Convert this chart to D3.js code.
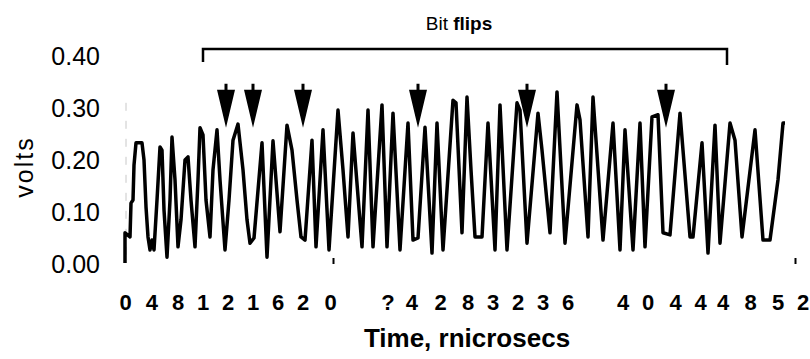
<!DOCTYPE html>
<html>
<head>
<meta charset="utf-8">
<script src="https://cdn.jsdelivr.net/npm/d3@7"></script>
<style>
  body { margin: 0; background: #fff; }
  svg { display: block; font-family: "Liberation Sans", Arial, sans-serif; }
</style>
</head>
<body>
<div class="chart"></div>
<script>
// scope trace: time in microseconds, signal in volts
const timeUs = [
  0, 0, 0.4, 0.48, 0.64, 0.72, 0.88, 1.36, 1.52, 1.68, 1.84, 2.0, 2.16, 2.32, 2.56, 2.8, 2.96, 3.12, 3.36, 3.6,
  3.76, 4.0, 4.24, 4.48, 4.8, 5.04, 5.28, 5.6, 5.84, 6.0, 6.24, 6.48, 6.8, 7.04, 7.36, 7.6, 8.0, 8.32, 8.64, 9.04,
  9.44, 9.76, 10.0, 10.32, 10.96, 11.36, 11.84, 12.4, 12.96, 13.36, 13.76, 14.08, 14.4, 14.96, 15.28, 15.84, 16.32, 17.04, 17.44, 17.84,
  18.24, 18.96, 19.44, 19.84, 20.56, 20.96, 21.44, 22.0, 22.64, 23.04, 23.44, 24.0, 24.56, 24.96, 25.44, 26.24, 26.48, 26.96, 27.36, 27.68,
  28.0, 28.56, 29.04, 29.6, 30.0, 30.56, 31.36, 31.6, 32.16, 33.04, 33.36, 34.0, 34.56, 35.2, 36.16, 36.4, 37.04, 37.44, 38.24, 39.04,
  39.6, 40.0, 40.64, 41.2, 41.6, 42.16, 42.64, 43.04, 43.6, 44.4, 45.2, 45.44, 46.16, 46.64, 47.2, 47.6, 48.4, 48.8, 49.36, 50.4,
  51.04, 51.6, 52.24, 52.64, 52.8
];
const volts = [
  0.002, 0.060, 0.052, 0.117, 0.123, 0.190, 0.233, 0.233, 0.200, 0.110, 0.052, 0.027, 0.046, 0.027, 0.123, 0.225, 0.219, 0.104, 0.013, 0.123,
  0.244, 0.162, 0.033, 0.085, 0.200, 0.206, 0.123, 0.033, 0.162, 0.262, 0.248, 0.123, 0.052, 0.181, 0.258, 0.162, 0.027, 0.123, 0.238, 0.269,
  0.181, 0.085, 0.040, 0.050, 0.233, 0.013, 0.237, 0.062, 0.267, 0.219, 0.123, 0.052, 0.046, 0.238, 0.033, 0.258, 0.027, 0.296, 0.181, 0.052,
  0.252, 0.033, 0.296, 0.033, 0.306, 0.033, 0.290, 0.027, 0.271, 0.046, 0.050, 0.263, 0.021, 0.271, 0.027, 0.315, 0.310, 0.060, 0.321, 0.181,
  0.052, 0.052, 0.271, 0.027, 0.306, 0.027, 0.310, 0.296, 0.040, 0.290, 0.219, 0.060, 0.331, 0.040, 0.306, 0.277, 0.052, 0.321, 0.046, 0.271,
  0.027, 0.258, 0.027, 0.271, 0.033, 0.283, 0.287, 0.060, 0.056, 0.290, 0.052, 0.052, 0.233, 0.021, 0.267, 0.040, 0.271, 0.238, 0.052, 0.258,
  0.046, 0.046, 0.162, 0.271, 0.271
];

// bit flip arrows and the bracket over them (microseconds)
const flipTimes = [8.08, 10.24, 14.24, 23.44, 32.16, 43.28];
const flipSpan = [6.24, 48.16];

const yTicks = [0, 0.1, 0.2, 0.3, 0.4];
// the x labels come out of the scan as loose characters
const xTickChars = ["0", "4", "8", "1", "2", "1", "6", "2", "0",
  "?", "4", "2", "8", "3", "2", "3", "6",
  "4", "0", "4", "4", "4", "8", "5", "2"];
const xTickAt = [0, 2.1, 4.2, 6.2, 8.2, 10.2, 12.2, 14.2, 16.4,
  21.0, 22.9, 25.2, 27.4, 29.4, 31.4, 33.4, 35.4,
  39.8, 41.8, 44.0, 46.0, 47.8, 50.0, 52.2, 54.2];
const xMarks = [16.64, 53.6];

const width = 810, height = 359;

const svg = d3.select(".chart")
  .append("svg")
  .attr("width", width)
  .attr("height", height);

const x = d3.scaleLinear().domain([0, 53.2]).range([125, 790]);
const y = d3.scaleLinear().domain([0, 0.4]).range([264, 56]);

// faint scanned y axis
svg.append("line")
  .attr("x1", 126).attr("x2", 126)
  .attr("y1", y(0.31)).attr("y2", y(0))
  .attr("stroke", "#c8c8c8")
  .attr("stroke-dasharray", "8,10");

const yAxis = svg.append("g")
  .attr("transform", "translate(126,0)")
  .call(d3.axisLeft(y).tickValues(yTicks).tickFormat(d3.format(".2f")).tickSize(0).tickPadding(26));
yAxis.select(".domain").remove();
yAxis.selectAll("text")
  .attr("font-size", 25)
  .attr("font-family", "Liberation Sans, Arial, sans-serif")
  .attr("fill", "#000");

const xAxis = svg.append("g")
  .attr("transform", `translate(0,${y(0)})`)
  .call(d3.axisBottom(x).tickValues(xTickAt).tickFormat((d, i) => xTickChars[i]).tickSize(0).tickPadding(30));
xAxis.select(".domain").remove();
xAxis.selectAll("text")
  .attr("font-size", 22)
  .attr("font-weight", "bold")
  .attr("font-family", "Liberation Sans, Arial, sans-serif")
  .attr("fill", "#000");

// the two little marks left on the baseline
const marks = svg.append("g")
  .attr("transform", `translate(0,${y(0)})`)
  .call(d3.axisBottom(x).tickValues(xMarks).tickFormat("").tickSize(-6));
marks.select(".domain").remove();
marks.selectAll("line").attr("stroke", "#000").attr("stroke-width", 2);

const line = d3.line()
  .x((d, i) => x(timeUs[i]))
  .y(d => y(d));

svg.append("path")
  .datum(volts)
  .attr("fill", "none")
  .attr("stroke", "#000")
  .attr("stroke-width", 3.5)
  .attr("stroke-linejoin", "round")
  .attr("d", line);

// arrows
const tipV = 0.262;
svg.selectAll(".flip")
  .data(flipTimes)
  .join("path")
  .attr("class", "flip")
  .attr("fill", "#000")
  .attr("d", t => {
    const cx = x(t), ty = y(tipV);
    return `M${cx},${ty} L${cx - 9},${ty - 38} L${cx - 1.5},${ty - 38} L${cx - 1.5},${ty - 44}` +
      ` L${cx + 1.5},${ty - 44} L${cx + 1.5},${ty - 38} L${cx + 9},${ty - 38} Z`;
  });

// bracket
const by = 49;
svg.append("path")
  .attr("fill", "none")
  .attr("stroke", "#000")
  .attr("stroke-width", 2.5)
  .attr("d", `M${x(flipSpan[0])},${by + 13} V${by} H${x(flipSpan[1])} V${by + 16}`);

const bit = svg.append("text")
  .attr("x", 459)
  .attr("y", 30)
  .attr("text-anchor", "middle")
  .attr("font-size", 19);
bit.append("tspan").text("Bit ");
bit.append("tspan").attr("font-weight", "bold").text("flips");

svg.append("text")
  .attr("x", 467)
  .attr("y", 347)
  .attr("text-anchor", "middle")
  .attr("font-size", 26)
  .attr("font-weight", "bold")
  .text("Time, rnicrosecs");

svg.append("text")
  .attr("transform", "translate(33,167) rotate(-90)")
  .attr("text-anchor", "middle")
  .attr("font-size", 25)
  .attr("letter-spacing", 2)
  .text("volts");
</script>
</body>
</html>
